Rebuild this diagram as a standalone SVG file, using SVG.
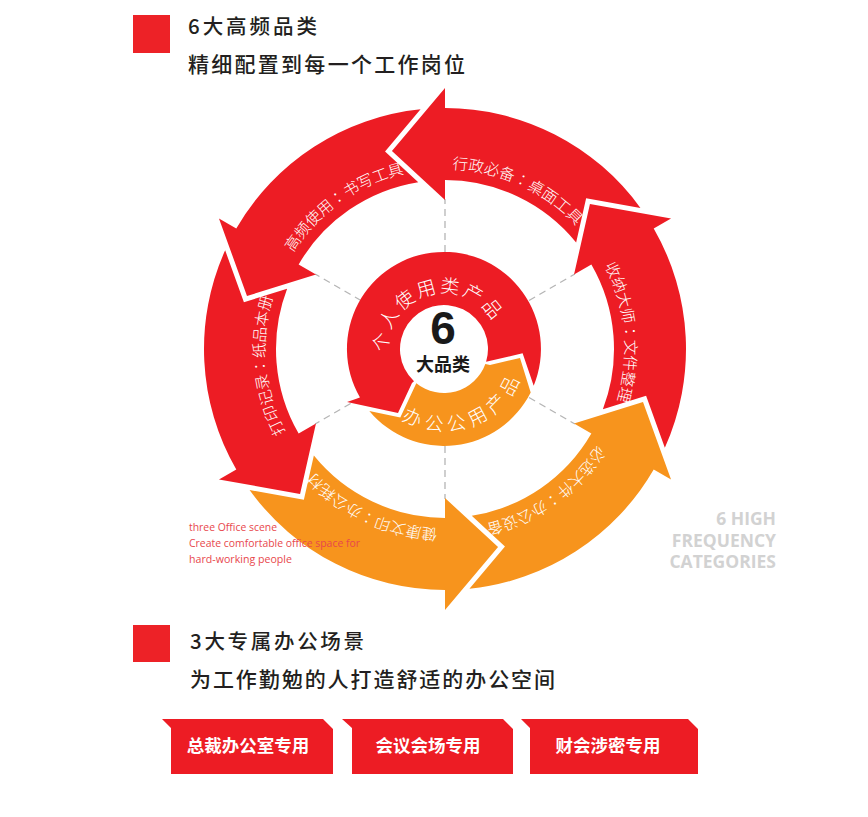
<svg xmlns="http://www.w3.org/2000/svg" width="868" height="817" viewBox="0 0 868 817">
<style>
.cjk{font-family:"Noto Sans CJK SC","Noto Sans",sans-serif}
.tc{font-family:"Noto Sans CJK TC","Noto Sans CJK SC",sans-serif}
.h{font-size:20.5px;fill:#231f20;font-weight:500}
.h2{font-size:21px;fill:#231f20;font-weight:500}
.lbl{font-size:15.5px;fill:#fff;font-weight:300}
.inner{font-size:19px;fill:#fff;font-weight:300}
.dash{stroke:#b5b5b5;stroke-width:1.3;stroke-dasharray:7 5;fill:none}
.red{fill:#ED1C24}
.org{fill:#F7941D}
.sq{fill:#ED2227}
.btnt{font-size:17.5px;fill:#fff;font-weight:700;text-anchor:middle}
.en{font-family:"Open Sans","Noto Sans",sans-serif;font-size:10.5px;fill:#e8474c}
.big{font-family:"Open Sans","Noto Sans",sans-serif;font-size:17.5px;font-weight:700;fill:#d2d2d2;text-anchor:end}
</style>
<defs>
<path id="arrow" d="M195.43,-141.03 A241,241 0 0 0 0,-241 L0,-261 L-53.06,-198 L0,-149 L0,-169 A169,169 0 0 1 131.14,-106.59 L141.14,-150.72 Z"/>
<path id="ringText" d="M445,169 A180,180 0 1 1 445,529 A180,180 0 1 1 445,169"/>
<path id="redText" d="M388,349 A56,56 0 1 1 500,349 A56,56 0 1 1 388,349"/>
<path id="orText" d="M362,349 A82,82 0 1 0 526,349 A82,82 0 1 0 362,349"/>
</defs>

<g id="header1">
<rect class="sq" x="133" y="15" width="37" height="38"/>
<text class="cjk h" x="188" y="34" textLength="129" lengthAdjust="spacing">6大高频品类</text>
<text class="cjk h2" x="188" y="72" textLength="277" lengthAdjust="spacing">精细配置到每一个工作岗位</text>
</g>

<g id="connectors">
<line class="dash" x1="445" y1="252" x2="445" y2="199"/>
<line class="dash" x1="445" y1="446" x2="445" y2="499"/>
<line class="dash" x1="529" y1="300.5" x2="574.9" y2="274"/>
<line class="dash" x1="529" y1="397.5" x2="574.9" y2="424"/>
<line class="dash" x1="361" y1="300.5" x2="315.1" y2="274"/>
<line class="dash" x1="361" y1="397.5" x2="315.1" y2="424"/>
</g>

<g id="arrow-xingzheng">
<use href="#arrow" class="red" transform="translate(445,349)"/>
<text class="tc lbl"><textPath href="#ringText" startOffset="77" text-anchor="middle">行政必备：桌面工具</textPath></text>
</g>
<g id="arrow-shouna">
<use href="#arrow" class="red" transform="translate(445,349) rotate(60)"/>
<text class="tc lbl"><textPath href="#ringText" startOffset="265.5" text-anchor="middle">收纳大师：文件整理</textPath></text>
</g>
<g id="arrow-bixuan">
<use href="#arrow" class="org" transform="translate(445,349) rotate(120)"/>
<text class="tc lbl"><textPath href="#ringText" startOffset="454" text-anchor="middle">必选大件：办公设备</textPath></text>
</g>
<g id="arrow-jiankang">
<use href="#arrow" class="org" transform="translate(445,349) rotate(180)"/>
<text class="tc lbl"><textPath href="#ringText" startOffset="642.5" text-anchor="middle">健康文印：办公耗材</textPath></text>
</g>
<g id="arrow-dayin">
<use href="#arrow" class="red" transform="translate(445,349) rotate(240)"/>
<text class="tc lbl"><textPath href="#ringText" startOffset="831" text-anchor="middle">打印记录：纸品本册</textPath></text>
</g>
<g id="arrow-gaopin">
<use href="#arrow" class="red" transform="translate(445,349) rotate(-60)"/>
<text class="tc lbl"><textPath href="#ringText" startOffset="1019.5" text-anchor="middle">高频使用：书写工具</textPath></text>
</g>

<g id="inner-personal">
<path class="red" d="M533.7,385.7 A97,97 0 1 0 360,397.5 L347,402 L398,413 L412,383 L414,381.2 A44,44 0 1 1 486.1,361.8 L522.6,353.3 Z"/>
<text class="cjk inner" letter-spacing="2.7"><textPath href="#redText" startOffset="72.8" text-anchor="middle">个人使用类产品</textPath></text>
</g>
<g id="inner-office">
<path class="org" d="M369.3,410.9 A97,97 0 0 0 530.7,392.4 L520,358 L490,365 L485.35,364.05 A44,44 0 0 1 416.3,383.2 L400.3,417.6 Z"/>
<text class="cjk inner" letter-spacing="5.3"><textPath href="#orText" startOffset="157.1" text-anchor="middle">办公公用产品</textPath></text>
</g>
<g id="center">
<text x="443" y="344" text-anchor="middle" style="font-family:'Liberation Sans',Arial,sans-serif;font-size:46px;font-weight:700;fill:#1a1a1a">6</text>
<text class="cjk" x="443" y="371" text-anchor="middle" style="font-size:18px;font-weight:700;fill:#1a1a1a">大品类</text>
</g>

<g id="english-note">
<text class="en" x="189" y="531" textLength="88" lengthAdjust="spacingAndGlyphs">three Office scene</text>
<text class="en" x="189" y="547" textLength="171" lengthAdjust="spacingAndGlyphs">Create comfortable office space for</text>
<text class="en" x="189" y="563" textLength="103" lengthAdjust="spacingAndGlyphs">hard-working people</text>
</g>

<g id="watermark">
<text class="big" x="776" y="525">6 HIGH</text>
<text class="big" x="776" y="547">FREQUENCY</text>
<text class="big" x="776" y="568">CATEGORIES</text>
</g>

<g id="header2">
<rect class="sq" x="133" y="625" width="37" height="37"/>
<text class="cjk h" x="190" y="649" textLength="174" lengthAdjust="spacing">3大专属办公场景</text>
<text class="cjk h2" x="190" y="687" textLength="365" lengthAdjust="spacing">为工作勤勉的人打造舒适的办公空间</text>
</g>

<g id="btn-president">
<path class="red" d="M162,719 L323,719 L333,729 L333,774 L171,774 L171,728 Z"/>
<text class="cjk btnt" x="248" y="752">总裁办公室专用</text>
</g>
<g id="btn-meeting">
<path class="red" d="M342,719 L503,719 L513,729 L513,774 L352,774 L352,728 Z"/>
<text class="cjk btnt" x="428" y="752">会议会场专用</text>
</g>
<g id="btn-finance">
<path class="red" d="M521,719 L688,719 L698,729 L698,774 L530,774 L530,728 Z"/>
<text class="cjk btnt" x="608" y="752">财会涉密专用</text>
</g>
</svg>
